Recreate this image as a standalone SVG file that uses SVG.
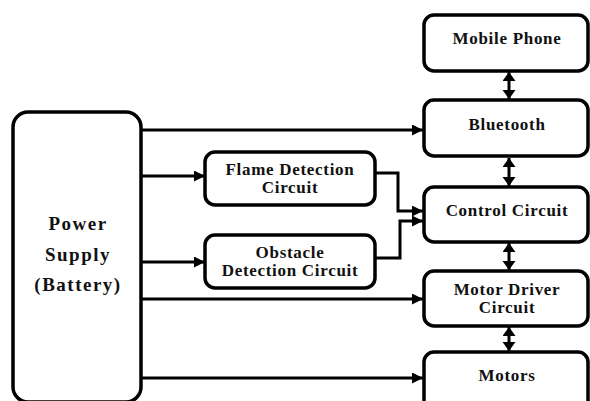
<svg xmlns="http://www.w3.org/2000/svg" width="590" height="401" viewBox="0 0 590 401">
<style>
.box{fill:#fff;stroke:#000;stroke-width:3.5}
.t{font-family:"Liberation Serif","Times New Roman",serif;font-weight:bold;font-size:17px;letter-spacing:0.7px;text-anchor:middle;fill:#111}
.tp{font-size:19px;letter-spacing:1.5px}
.c{fill:none;stroke:#000;stroke-width:3}
</style>
<defs>
<marker id="ah" markerUnits="userSpaceOnUse" markerWidth="12" markerHeight="12" refX="11" refY="5.5" orient="auto"><path d="M0,0 L11,5.5 L0,11 z" fill="#000"/></marker>
<marker id="dh" markerUnits="userSpaceOnUse" markerWidth="12" markerHeight="14" refX="9" refY="6.5" orient="auto-start-reverse"><path d="M0,0 L9,6.5 L0,13 z" fill="#000"/></marker>
</defs>
<rect width="590" height="401" fill="#fff"/>
<g id="connectors">
<line class="c" x1="141" y1="130" x2="423" y2="130" marker-end="url(#ah)"/>
<line class="c" x1="141" y1="176" x2="205" y2="176" marker-end="url(#ah)"/>
<line class="c" x1="141" y1="262" x2="205" y2="262" marker-end="url(#ah)"/>
<line class="c" x1="141" y1="299" x2="423" y2="299" marker-end="url(#ah)"/>
<line class="c" x1="141" y1="378" x2="423" y2="378" marker-end="url(#ah)"/>
<path class="c" d="M375,173 H398 V211 H423" marker-end="url(#ah)"/>
<path class="c" d="M375,258 H400 V221 H423" marker-end="url(#ah)"/>
<line class="c" x1="509" y1="72" x2="509" y2="99" marker-start="url(#dh)" marker-end="url(#dh)"/>
<line class="c" x1="509" y1="158" x2="509" y2="186" marker-start="url(#dh)" marker-end="url(#dh)"/>
<line class="c" x1="509" y1="243" x2="509" y2="270" marker-start="url(#dh)" marker-end="url(#dh)"/>
<line class="c" x1="509" y1="327" x2="509" y2="351" marker-start="url(#dh)" marker-end="url(#dh)"/>
</g>
<g id="power">
<rect class="box" x="13" y="112" width="128" height="290" rx="15"/>
<text class="t tp" x="78" y="230">Power</text>
<text class="t tp" x="78" y="261">Supply</text>
<text class="t tp" x="78" y="291">(Battery)</text>
</g>
<g id="flame">
<rect class="box" x="205" y="152" width="170" height="53" rx="10"/>
<text class="t" x="290" y="175">Flame Detection</text>
<text class="t" x="290" y="193">Circuit</text>
</g>
<g id="obstacle">
<rect class="box" x="205" y="235" width="170" height="53" rx="10"/>
<text class="t" x="290" y="258">Obstacle</text>
<text class="t" x="290" y="276">Detection Circuit</text>
</g>
<g id="mobile">
<rect class="box" x="424" y="15" width="164" height="56" rx="10"/>
<text class="t" x="507" y="44">Mobile Phone</text>
</g>
<g id="bluetooth">
<rect class="box" x="424" y="100" width="164" height="56" rx="10"/>
<text class="t" x="507" y="130">Bluetooth</text>
</g>
<g id="control">
<rect class="box" x="424" y="187" width="164" height="55" rx="10"/>
<text class="t" x="507" y="216">Control Circuit</text>
</g>
<g id="motordriver">
<rect class="box" x="424" y="271" width="164" height="55" rx="10"/>
<text class="t" x="507" y="295">Motor Driver</text>
<text class="t" x="507" y="313">Circuit</text>
</g>
<g id="motors">
<rect class="box" x="424" y="352" width="164" height="60" rx="10"/>
<text class="t" x="507" y="381">Motors</text>
</g>
</svg>
